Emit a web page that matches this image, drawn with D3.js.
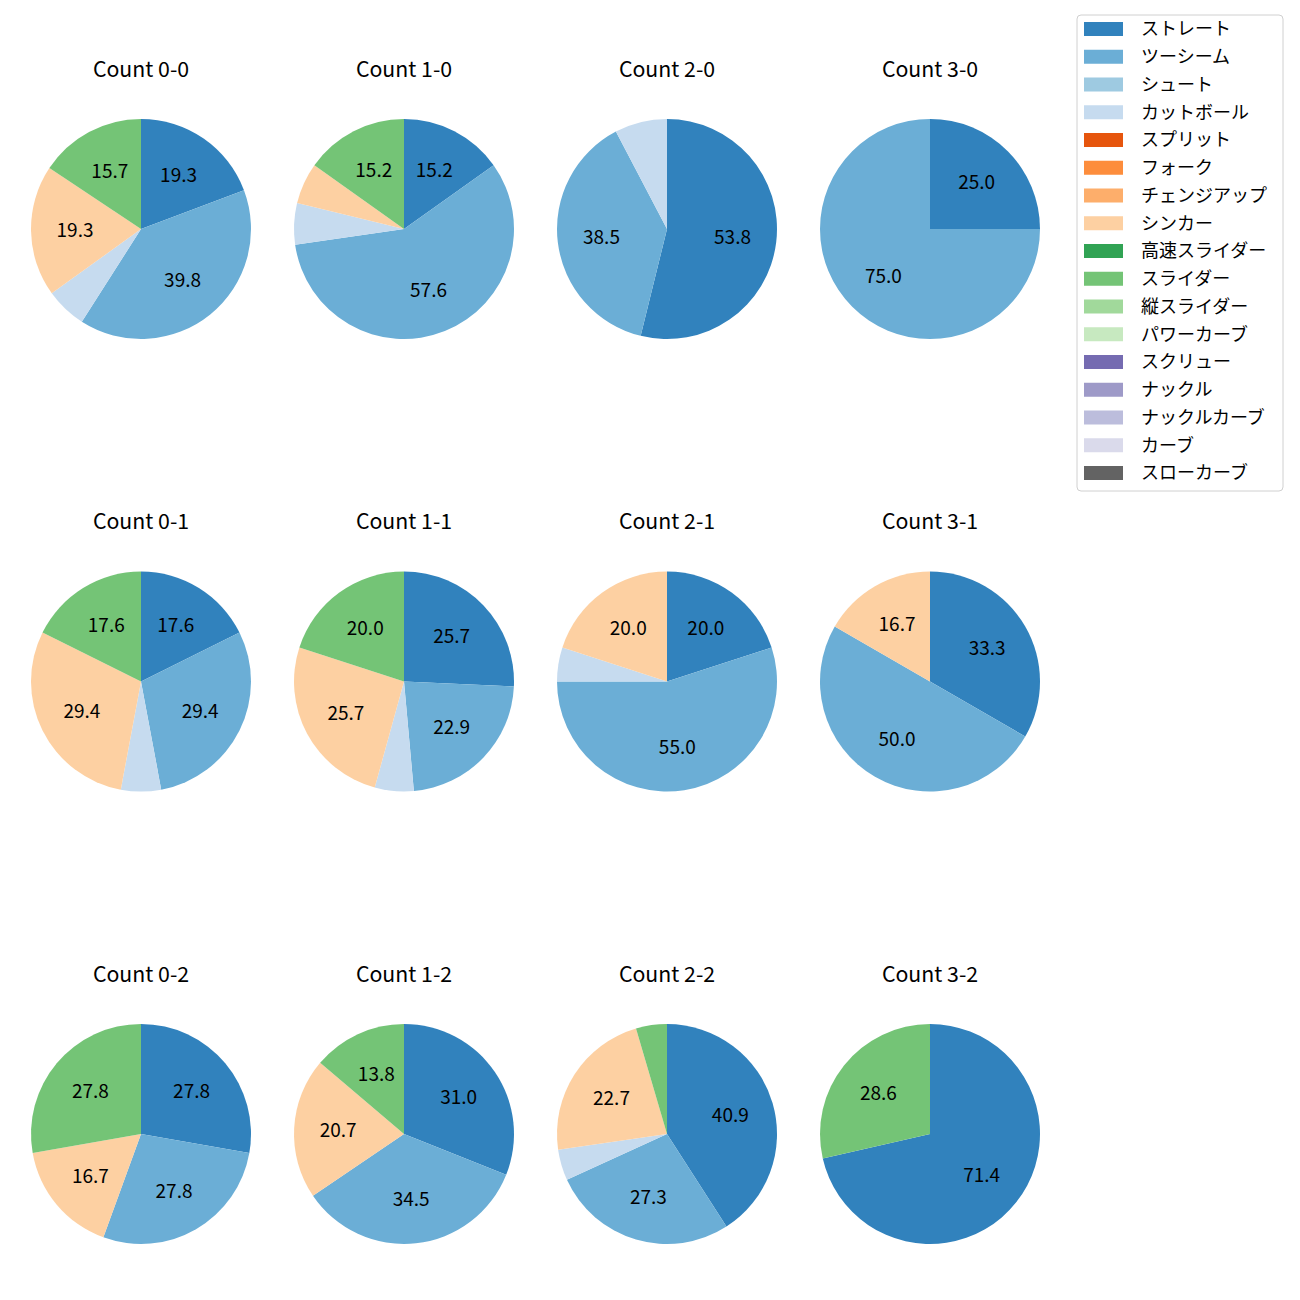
<!DOCTYPE html>
<html><head><meta charset="utf-8">
<script src="https://cdn.jsdelivr.net/npm/d3@7"></script>
<style>body{margin:0;background:#fff}</style>
</head><body>
<script>
const pitchTypes = ["ストレート","ツーシーム","シュート","カットボール","スプリット","フォーク","チェンジアップ","シンカー","高速スライダー","スライダー","縦スライダー","パワーカーブ","スクリュー","ナックル","ナックルカーブ","カーブ","スローカーブ"];
const pitchColors = ["#3182bd","#6baed6","#9ecae1","#c6dbef","#e6550d","#fd8d3c","#fdae6b","#fdd0a2","#31a354","#74c476","#a1d99b","#c7e9c0","#756bb1","#9e9ac8","#bcbddc","#dadaeb","#636363"];
const counts = ["0-0","1-0","2-0","3-0","0-1","1-1","2-1","3-1","0-2","1-2","2-2","3-2"];
// pitch counts per pitch type (same order as pitchTypes)
const count00 = [16,33,0,5,0,0,0,16,0,13,0,0,0,0,0,0,0];
const count10 = [5,19,0,2,0,0,0,2,0,5,0,0,0,0,0,0,0];
const count20 = [7,5,0,1,0,0,0,0,0,0,0,0,0,0,0,0,0];
const count30 = [1,3,0,0,0,0,0,0,0,0,0,0,0,0,0,0,0];
const count01 = [3,5,0,1,0,0,0,5,0,3,0,0,0,0,0,0,0];
const count11 = [9,8,0,2,0,0,0,9,0,7,0,0,0,0,0,0,0];
const count21 = [4,11,0,1,0,0,0,4,0,0,0,0,0,0,0,0,0];
const count31 = [2,3,0,0,0,0,0,1,0,0,0,0,0,0,0,0,0];
const count02 = [5,5,0,0,0,0,0,3,0,5,0,0,0,0,0,0,0];
const count12 = [9,10,0,0,0,0,0,6,0,4,0,0,0,0,0,0,0];
const count22 = [9,6,0,1,0,0,0,5,0,1,0,0,0,0,0,0,0];
const count32 = [5,0,0,0,0,0,0,0,0,2,0,0,0,0,0,0,0];
const allCounts = [count00,count10,count20,count30,count01,count11,count21,count31,count02,count12,count22,count32];

const W=1300,H=1300;
const svg=d3.select("body").append("svg").attr("width",W).attr("height",H)
  .style("font-family","'Noto Sans CJK JP','Noto Sans',sans-serif");
const colX=d3.scaleLinear().domain([0,3]).range([141,930]);
const rowY=d3.scaleLinear().domain([0,2]).range([229,1134]);
const R=110;
const color=d3.scaleOrdinal().domain(pitchTypes).range(pitchColors);
const pie=d3.pie().sort(null).value(d=>d.v).startAngle(0).endAngle(2*Math.PI);
const arc=d3.arc().innerRadius(0).outerRadius(R);
const labelArc=d3.arc().innerRadius(R*0.6).outerRadius(R*0.6);

counts.forEach((c,i)=>{
  const cx=colX(i%4), cy=rowY(Math.floor(i/4));
  const data=pitchTypes.map((p,j)=>({p,v:allCounts[i][j]})).filter(d=>d.v>0);
  const total=d3.sum(data,d=>d.v);
  const g=svg.append("g").attr("transform",`translate(${cx},${cy})`);
  const arcs=pie(data);
  g.selectAll("path").data(arcs).join("path").attr("d",arc).attr("fill",d=>color(d.data.p));
  g.selectAll("text").data(arcs.filter(d=>d.data.v/total*100>=10)).join("text")
    .attr("transform",d=>`translate(${labelArc.centroid(d)})`)
    .attr("text-anchor","middle").attr("dy","0.36em")
    .attr("font-size",19).attr("fill","#000")
    .text(d=>(d.data.v/total*100).toFixed(1));
  svg.append("text").attr("x",cx).attr("y",cy-160).attr("text-anchor","middle")
    .attr("dy","0.36em").attr("font-size",21.3).text("Count "+c);
});

// legend
const lg=svg.append("g");
lg.append("rect").attr("x",1077).attr("y",15).attr("width",206).attr("height",476)
  .attr("rx",4).attr("fill","#fff").attr("stroke","#d0d0d0").attr("stroke-width",1);
const ly=d3.scaleLinear().domain([0,16]).range([29,473]);
pitchTypes.forEach((p,j)=>{
  lg.append("rect").attr("x",1084).attr("y",ly(j)-7).attr("width",39).attr("height",14).attr("fill",color(p));
  lg.append("text").attr("x",1141).attr("y",ly(j)).attr("dy","0.36em")
    .attr("font-size",18).text(p);
});
</script>
</body></html>
